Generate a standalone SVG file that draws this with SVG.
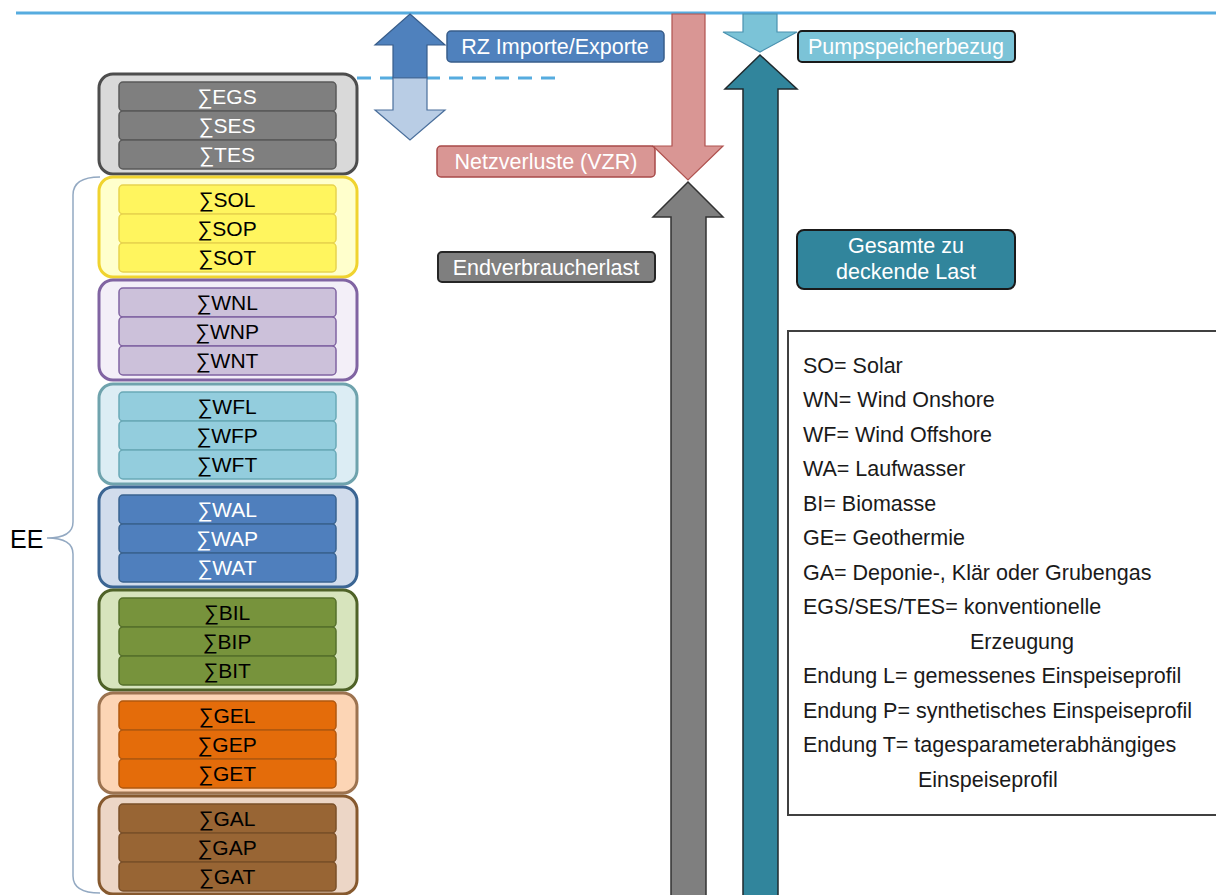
<svg xmlns="http://www.w3.org/2000/svg" width="1216" height="895" viewBox="0 0 1216 895">
<style>
text{font-family:"Liberation Sans",Arial,sans-serif}
.outer{stroke-width:3}
.inner{stroke-width:1.5}
.sum{font-size:21px;text-anchor:middle}
.lbl{font-size:21.5px;fill:#fff;text-anchor:middle}
.leg{font-size:21.5px;fill:#1a1a1a}
.gray .outer{fill:#d9d9d9;stroke:#4d4d4d}.gray .inner{fill:#7f7f7f;stroke:#5a5a5a}.gray text{fill:#fff}
.yel .outer{fill:#ffffcc;stroke:#f0d32f}.yel .inner{fill:#fff55e;stroke:#e8d44d}.yel text{fill:#000}
.pur .outer{fill:#f3eff8;stroke:#8064a2}.pur .inner{fill:#ccc1da;stroke:#8064a2}.pur text{fill:#000}
.tea .outer{fill:#dcedf4;stroke:#6fa3ad}.tea .inner{fill:#93cddd;stroke:#6aa9b7}.tea text{fill:#000}
.blu .outer{fill:#d1dcec;stroke:#3b6593}.blu .inner{fill:#4f7fbd;stroke:#3a6390}.blu text{fill:#fff}
.grn .outer{fill:#d7e4bd;stroke:#4f6228}.grn .inner{fill:#77933c;stroke:#56702b}.grn text{fill:#000}
.org .outer{fill:#fcd5b5;stroke:#9c7350}.org .inner{fill:#e46c0a;stroke:#b0580f}.org text{fill:#000}
.brn .outer{fill:#ecd6c6;stroke:#86592e}.brn .inner{fill:#986534;stroke:#7a5029}.brn text{fill:#000}
</style>
<rect width="1216" height="895" fill="#fff"/>
<g id="connectors">
<line x1="16" y1="13" x2="1216" y2="13" stroke="#56acdf" stroke-width="3"/>
<line x1="357" y1="78" x2="555" y2="78" stroke="#56acdf" stroke-width="3" stroke-dasharray="14 9"/>
<path d="M410,14 L445,45 L427,45 L427,78 L393,78 L393,45 L375,45 Z" fill="#4f81bd" stroke="#385d8a" stroke-width="1.2"/>
<path d="M393,78 L427,78 L427,110 L445,110 L410,140 L375,110 L393,110 Z" fill="#b9cde5" stroke="#4a6f9c" stroke-width="1.2"/>
<path d="M672,14 L705,14 L705,146 L723,146 L688,180 L653,146 L672,146 Z" fill="#d99694" stroke="#b0524f" stroke-width="1.2"/>
<path d="M688,182 L723,217 L706,217 L706,900 L671,900 L671,217 L653,217 Z" fill="#7f7f7f" stroke="#333" stroke-width="1.5"/>
<path d="M743,14 L777,14 L777,32 L797,32 L760,52 L723,32 L743,32 Z" fill="#7bc3d7" stroke="#4a92b0" stroke-width="1.2"/>
<path d="M760,55 L797,89 L778,89 L778,900 L743,900 L743,89 L725,89 Z" fill="#31859c" stroke="#1f2a2e" stroke-width="1.5"/>
<path d="M100,177 Q73,177 73,195 L73,522 Q73,538 47,538 Q73,538 73,554 L73,876 Q73,893 100,893" fill="none" stroke="#93a9c2" stroke-width="1.5"/>
</g>
<g id="ee"><text x="10" y="548" font-size="25" fill="#000">EE</text></g>
<g id="egs" class="gray" transform="translate(0,74)">
<rect class="outer" x="99" y="0" width="258" height="100" rx="14"/>
<rect class="inner" x="119" y="8" width="217" height="29" rx="4"/><rect class="inner" x="119" y="37" width="217" height="29" rx="4"/><rect class="inner" x="119" y="66" width="217" height="29" rx="4"/>
<text class="sum" x="227" y="30">∑EGS</text><text class="sum" x="227" y="59">∑SES</text><text class="sum" x="227" y="88">∑TES</text></g>
<g id="so" class="yel" transform="translate(0,177)">
<rect class="outer" x="99" y="0" width="258" height="100" rx="14"/>
<rect class="inner" x="119" y="8" width="217" height="29" rx="4"/><rect class="inner" x="119" y="37" width="217" height="29" rx="4"/><rect class="inner" x="119" y="66" width="217" height="29" rx="4"/>
<text class="sum" x="227" y="30">∑SOL</text><text class="sum" x="227" y="59">∑SOP</text><text class="sum" x="227" y="88">∑SOT</text></g>
<g id="wn" class="pur" transform="translate(0,280)">
<rect class="outer" x="99" y="0" width="258" height="100" rx="14"/>
<rect class="inner" x="119" y="8" width="217" height="29" rx="4"/><rect class="inner" x="119" y="37" width="217" height="29" rx="4"/><rect class="inner" x="119" y="66" width="217" height="29" rx="4"/>
<text class="sum" x="227" y="30">∑WNL</text><text class="sum" x="227" y="59">∑WNP</text><text class="sum" x="227" y="88">∑WNT</text></g>
<g id="wf" class="tea" transform="translate(0,384)">
<rect class="outer" x="99" y="0" width="258" height="100" rx="14"/>
<rect class="inner" x="119" y="8" width="217" height="29" rx="4"/><rect class="inner" x="119" y="37" width="217" height="29" rx="4"/><rect class="inner" x="119" y="66" width="217" height="29" rx="4"/>
<text class="sum" x="227" y="30">∑WFL</text><text class="sum" x="227" y="59">∑WFP</text><text class="sum" x="227" y="88">∑WFT</text></g>
<g id="wa" class="blu" transform="translate(0,487)">
<rect class="outer" x="99" y="0" width="258" height="100" rx="14"/>
<rect class="inner" x="119" y="8" width="217" height="29" rx="4"/><rect class="inner" x="119" y="37" width="217" height="29" rx="4"/><rect class="inner" x="119" y="66" width="217" height="29" rx="4"/>
<text class="sum" x="227" y="30">∑WAL</text><text class="sum" x="227" y="59">∑WAP</text><text class="sum" x="227" y="88">∑WAT</text></g>
<g id="bi" class="grn" transform="translate(0,590)">
<rect class="outer" x="99" y="0" width="258" height="100" rx="14"/>
<rect class="inner" x="119" y="8" width="217" height="29" rx="4"/><rect class="inner" x="119" y="37" width="217" height="29" rx="4"/><rect class="inner" x="119" y="66" width="217" height="29" rx="4"/>
<text class="sum" x="227" y="30">∑BIL</text><text class="sum" x="227" y="59">∑BIP</text><text class="sum" x="227" y="88">∑BIT</text></g>
<g id="ge" class="org" transform="translate(0,693)">
<rect class="outer" x="99" y="0" width="258" height="100" rx="14"/>
<rect class="inner" x="119" y="8" width="217" height="29" rx="4"/><rect class="inner" x="119" y="37" width="217" height="29" rx="4"/><rect class="inner" x="119" y="66" width="217" height="29" rx="4"/>
<text class="sum" x="227" y="30">∑GEL</text><text class="sum" x="227" y="59">∑GEP</text><text class="sum" x="227" y="88">∑GET</text></g>
<g id="ga" class="brn" transform="translate(0,796)">
<rect class="outer" x="99" y="0" width="258" height="98" rx="14"/>
<rect class="inner" x="119" y="8" width="217" height="29" rx="4"/><rect class="inner" x="119" y="37" width="217" height="29" rx="4"/><rect class="inner" x="119" y="66" width="217" height="29" rx="4"/>
<text class="sum" x="227" y="30">∑GAL</text><text class="sum" x="227" y="59">∑GAP</text><text class="sum" x="227" y="88">∑GAT</text></g>
<g id="rz"><rect x="447" y="31" width="217" height="31" rx="4" fill="#4f81bd" stroke="#385d8a" stroke-width="1.5"/><text class="lbl" x="555" y="54">RZ Importe/Exporte</text></g>
<g id="netz"><rect x="437" y="146" width="218" height="31" rx="4" fill="#d99694" stroke="#a84a48" stroke-width="1.5"/><text class="lbl" x="546" y="169">Netzverluste (VZR)</text></g>
<g id="endv"><rect x="438" y="252" width="217" height="30" rx="4" fill="#7f7f7f" stroke="#262626" stroke-width="2"/><text class="lbl" x="546" y="275">Endverbraucherlast</text></g>
<g id="pump"><rect x="798" y="31" width="217" height="31" rx="4" fill="#7bc3d7" stroke="#1a1a1a" stroke-width="2"/><text class="lbl" x="906" y="54">Pumpspeicherbezug</text></g>
<g id="gesamt"><rect x="797" y="230" width="218" height="59" rx="7" fill="#31859c" stroke="#1a1a1a" stroke-width="2"/><text class="lbl" x="906" y="253">Gesamte zu</text><text class="lbl" x="906" y="279">deckende Last</text></g>
<g id="legend">
<rect x="788" y="331" width="440" height="484" fill="#fff" stroke="#404040" stroke-width="2"/>
<text class="leg" x="803" y="373">SO= Solar</text>
<text class="leg" x="803" y="407">WN= Wind Onshore</text>
<text class="leg" x="803" y="442">WF= Wind Offshore</text>
<text class="leg" x="803" y="476">WA= Laufwasser</text>
<text class="leg" x="803" y="511">BI= Biomasse</text>
<text class="leg" x="803" y="545">GE= Geothermie</text>
<text class="leg" x="803" y="580">GA= Deponie-, Klär oder Grubengas</text>
<text class="leg" x="803" y="614">EGS/SES/TES= konventionelle</text>
<text class="leg" x="970" y="649">Erzeugung</text>
<text class="leg" x="803" y="683">Endung L= gemessenes Einspeiseprofil</text>
<text class="leg" x="803" y="718">Endung P= synthetisches Einspeiseprofil</text>
<text class="leg" x="803" y="752">Endung T= tagesparameterabhängiges</text>
<text class="leg" x="918" y="787">Einspeiseprofil</text>
</g>
</svg>
